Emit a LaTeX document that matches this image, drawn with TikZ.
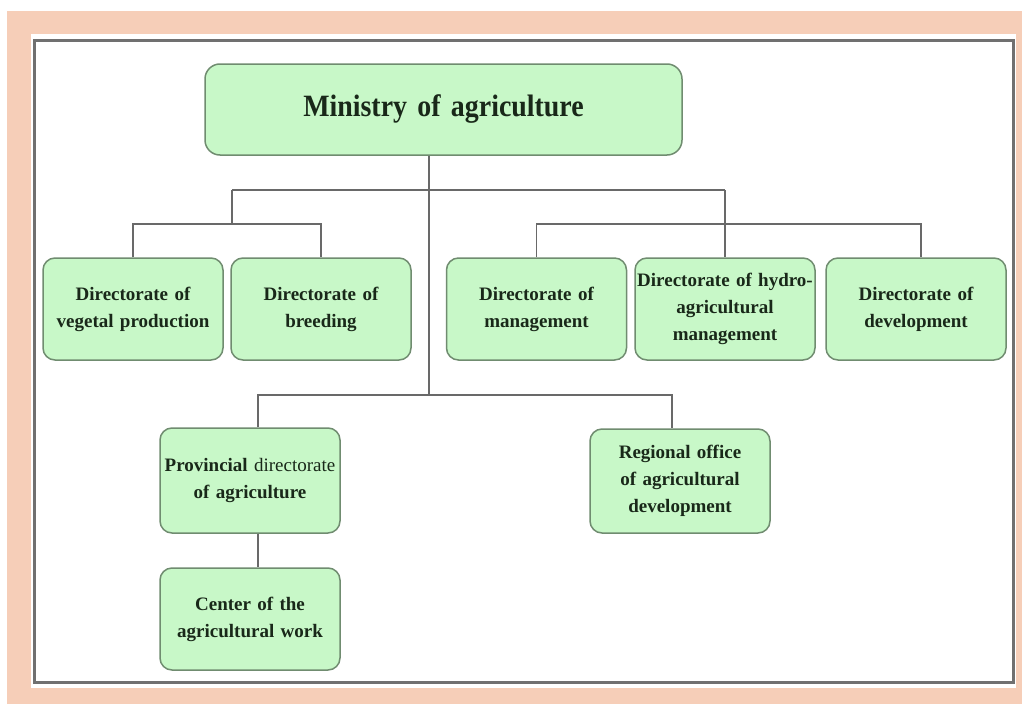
\documentclass[tikz,border=0pt]{standalone}
\usepackage{fontspec}
\setmainfont{Liberation Serif}
\newfontfamily\headfont[FakeStretch=0.9]{Liberation Serif}
\usetikzlibrary{positioning}

\definecolor{peach}{RGB}{246,206,184}
\definecolor{framegray}{RGB}{112,112,112}
\definecolor{boxfill}{RGB}{200,248,200}
\definecolor{boxline}{RGB}{112,140,112}
\definecolor{linkgray}{RGB}{105,105,105}
\definecolor{txt}{RGB}{25,40,25}

\tikzset{
  unit/.style={draw=boxline, fill=boxfill, line width=1.5pt, rounded corners=12pt,
    minimum width=180pt, minimum height=102pt, inner sep=1pt, text width=178pt,
    align=center, text=txt, font=\fontsize{19}{27}\selectfont\bfseries},
  link/.style={draw=linkgray, line width=1.6pt},
}

\begin{document}
\begin{tikzpicture}[x=1pt, y=-1pt]
  \useasboundingbox (0,0) rectangle (1022,704);
  \fill[peach] (7,11) rectangle (1022,704);
  \fill[white] (31,34) rectangle (1016,688);
  \draw[framegray, line width=3pt] (34,40) rectangle (1013,682);

  \node[unit, minimum width=477pt, minimum height=91pt, text width=470pt, rounded corners=15pt,
        font=\headfont\fontsize{31}{36}\selectfont\bfseries] (min) at (443.5,109.5) {Ministry of agriculture};

  \node[unit] (veg) at (133,309) {Directorate of\\vegetal production};
  \node[unit, minimum width=178pt] (bre) at (321,309) {Directorate of\\breeding};
  \node[unit, minimum width=179pt] (man) at (536.5,309) {Directorate of\\management};
  \node[unit] (hyd) at (725,309) {Directorate of hydro-\\agricultural\\management};
  \node[unit, minimum width=179pt] (dev) at (916,309) {Directorate of\\development};

  \node[unit, minimum height=105pt] (pro) at (250,480.5) {Provincial {\mdseries directorate}\\of agriculture};
  \node[unit, minimum height=104pt] (reg) at (680,481) {Regional office\\of agricultural\\development};
  \node[unit] (cen) at (250,619) {Center of the\\agricultural work};

  \coordinate (trunk) at (429,395);
  \coordinate (left) at (232,190);
  \coordinate (right) at (725,190);
  \coordinate (lbr) at (232,224);
  \coordinate (rbr) at (725,224);

  \draw[link] (min.south -| trunk) -- (trunk);
  \draw[link] (left) -- (right);
  \draw[link] (left) -- (lbr);
  \draw[link] (veg.north) |- (lbr) -| (bre.north);
  \draw[link] (right) -- (hyd.north);
  \draw[link] (man.north) |- (rbr) -| ([xshift=5pt]dev.north);
  \draw[link] ([xshift=8pt]pro.north) |- (trunk) -| ([xshift=-8pt]reg.north);
  \draw[link] ([xshift=8pt]pro.south) -- ([xshift=8pt]cen.north);
\end{tikzpicture}
\end{document}
